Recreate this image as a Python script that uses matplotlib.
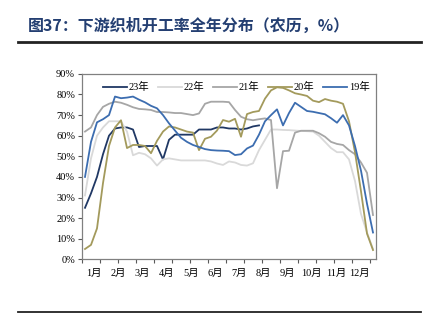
#!/usr/bin python3

# import required libraries
import matplotlib.pyplot as plt
from matplotlib.lines import Line2D

plt.rcParams['font.family'] = ['Liberation Serif', 'Noto Sans CJK SC']

# weekly loom operating rate (%), lunar calendar, one point per week
y23 = [25, 32, 40, 51, 60, 63.5, 64, 64, 63, 54.5, 55, 55, 55, 48.5, 58,
       60.5, 60.5, 60.5, 60.5, 63, 63, 63, 64, 64, 63.5, 63.5, 63, 63.5, 64.5, 65]
y22 = [31, 49, 60, 64, 67, 67, 67, 62, 50.5, 51.7, 51, 49, 45.5, 48.5, 49,
       48.5, 48, 48, 48, 48, 48, 47.5, 46.5, 45.8, 47.5, 47, 45.8, 45.5, 46.6,
       53, 58, 63, 63, 62.8, 62.7, 62.5, 62.3, 62.2, 62, 60, 57, 54, 52, 52,
       48.5, 38, 22, 13, 5]
y21 = [62, 64, 70, 74, 75.5, 76.5, 76, 75, 73.8, 73, 72.8, 72.5, 71.5, 71.5,
       71.3, 71, 71, 70.5, 70, 70.8, 75.5, 76.5, 76.5, 76.5, 76.3, 72.5, 69.2,
       68, 67.5, 68, 68.4, 67.6, 34.5, 52.5, 52.7, 61.5, 62.4, 62.4, 62.4,
       61.2, 59.5, 57, 56, 55.5, 53, 51, 47, 42, 21.5]
y20 = [5, 7, 15, 37, 55, 64, 67.5, 54, 55.5, 55.5, 55, 51.5, 57.5, 62, 64.5,
       64, 63, 62, 61.5, 53, 58.5, 59.5, 62.5, 67.6, 66.8, 68.2, 59.5, 70.5,
       71.5, 72, 78, 82, 83.5, 83.2, 82, 80.6, 80, 79.3, 77, 76.3, 77.8, 77,
       76.5, 75.5, 67, 52, 33, 12.5, 4.5]
y19 = [40, 57, 66.5, 68, 70, 79, 78.2, 78.5, 79, 77.5, 76.2, 74.5, 73.3, 70,
       66, 62.5, 59, 57, 55.5, 54.5, 53.5, 53, 52.8, 52.7, 52.5, 50.6, 51,
       53.8, 55.2, 60.5, 67, 70, 72.8, 65, 71, 76, 74, 72, 71.6, 71, 70.4,
       68.5, 66.3, 70, 65, 55, 43, 27, 13]

series = [("23年", y23, "#203864"), ("22年", y22, "#d9d9d9"),
          ("21年", y21, "#a6a6a6"), ("20年", y20, "#a39a5c"),
          ("19年", y19, "#3c6db0")]
months = ["%d月" % m for m in range(1, 13)]
n_weeks = 49


def main():
    fig = plt.figure(figsize=(4.32, 3.36), dpi=100)

    # title and rules
    fig.text(28 / 432, 1 - 26 / 336, "图37：下游织机开工率全年分布（农历，%）",
             fontsize=11.5, fontweight='bold', color="#243f72",
             family=['Noto Sans CJK SC'], va='center', ha='left')
    fig.add_artist(Line2D([18 / 432, 421 / 432], [1 - 42 / 336] * 2,
                          color="#222222", lw=2.0))
    fig.add_artist(Line2D([18 / 432, 421 / 432], [1 - 311.7 / 336] * 2,
                          color="#222222", lw=1.3))

    ax = fig.add_axes([82 / 432, 1 - 259.3 / 336, 294 / 432, 185.4 / 336])
    for name, vals, col in series:
        ax.plot(range(len(vals)), vals, color=col, lw=1.3, label=name)

    ax.set_xlim(-0.5, n_weeks - 0.5)
    ax.set_ylim(0, 90)
    ax.set_yticks(range(0, 91, 10))
    ax.set_yticklabels(["%d%%" % v for v in range(0, 91, 10)], fontsize=7.5)
    ax.set_xticks([-0.5 + 3 * k for k in range(17)])
    ax.set_xticklabels([])
    ax.tick_params(axis='both', direction='out', length=3, width=0.8,
                   color="#595959", pad=2)
    for sp in ax.spines.values():
        sp.set_color("#808080")
        sp.set_linewidth(0.9)

    # month labels sit between the tick marks
    for k, m in enumerate(months):
        ax.text(1.55 + 4.025 * k, -0.075, m, transform=ax.get_xaxis_transform(),
                ha='center', va='center', fontsize=7.5)

    ax.legend(loc='upper center', bbox_to_anchor=(0.525, 0.995), ncol=5,
              frameon=False, fontsize=7.5, handlelength=2.3,
              handletextpad=0.2, columnspacing=0.8, borderaxespad=0.3)

    plt.savefig("out.png", dpi=100)


if __name__ == '__main__':
    main()
